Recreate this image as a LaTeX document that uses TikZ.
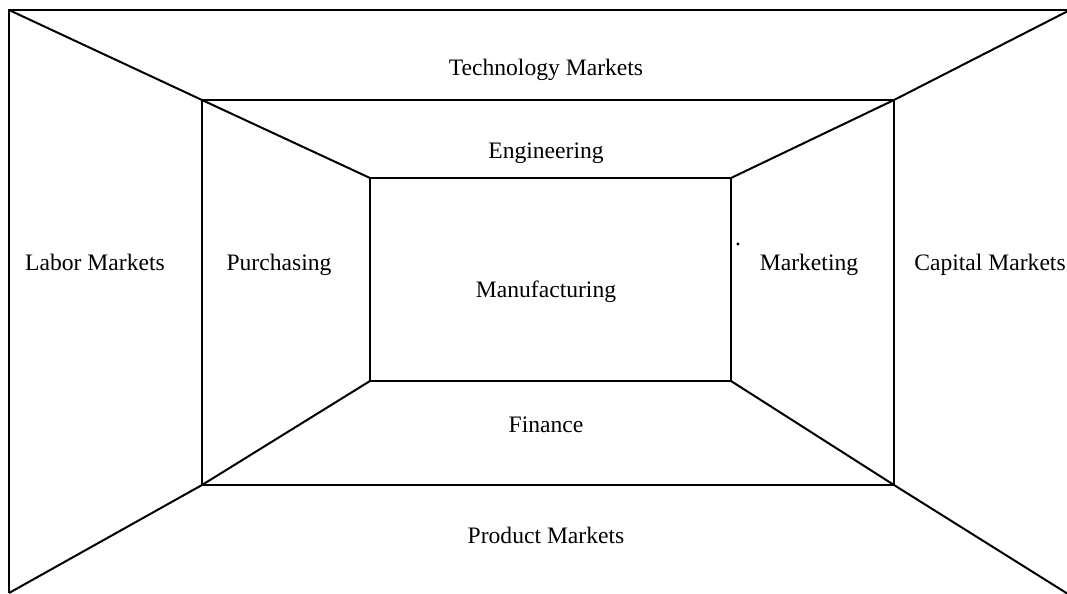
\documentclass[tikz,border=0pt]{standalone}
\usepackage{fontspec}
\setmainfont{Liberation Serif}
\begin{document}
\begin{tikzpicture}[x=0.75pt,y=-0.75pt,
  frame/.style={line width=1.5pt,line join=miter},
  lbl/.style={font=\fontsize{17.7}{20}\selectfont,anchor=base,inner sep=0pt}]
\useasboundingbox (0,0) rectangle (1067,593);
% outer corners
\coordinate (o1) at (9,10);
\coordinate (o2) at (1068,11);
\coordinate (o3) at (1068,594);
\coordinate (o4) at (9,593);
% middle rectangle
\coordinate (m1) at (202,100);
\coordinate (m2) at (894,100);
\coordinate (m3) at (894,485);
\coordinate (m4) at (202,485);
% inner rectangle
\coordinate (i1) at (370,178);
\coordinate (i2) at (731,178);
\coordinate (i3) at (731,381);
\coordinate (i4) at (370,381);
% outer frame (top and left edges)
\draw[frame] (o4) -- (o1) -- (1068,10);
% rectangles
\draw[frame] (m1) -- (m2) -- (m3) -- (m4) -- cycle;
\draw[frame] (i1) -- (i2) -- (i3) -- (i4) -- cycle;
% diagonals
\draw[frame] (o1) -- (m1) -- (i1);
\draw[frame] (o2) -- (m2) -- (i2);
\draw[frame] (o3) -- (m3) -- (i3);
\draw[frame] (o4) -- (m4) -- (i4);
% labels
\node[lbl] (tech) at (546,75) {Technology Markets};
\node[lbl] (eng) at (546,158) {Engineering};
\node[lbl] (labor) at (95,270) {Labor Markets};
\node[lbl] (purch) at (279,270) {Purchasing};
\node[lbl] (manu) at (546,297) {Manufacturing};
\node[lbl] (mkt) at (809,270) {Marketing};
\node[lbl] (cap) at (990,270) {Capital Markets};
\node[lbl] (fin) at (546,432) {Finance};
\node[lbl] (prod) at (546,543) {Product Markets};
\node[lbl] (dot) at (738,245) {.};
\end{tikzpicture}
\end{document}
